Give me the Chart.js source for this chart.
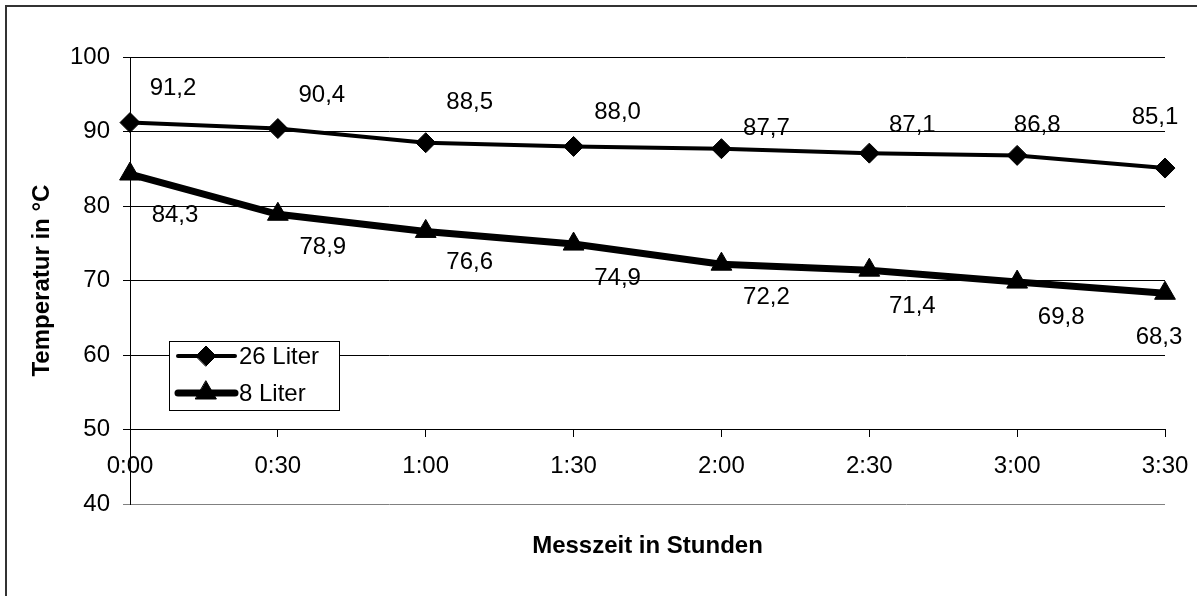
<!DOCTYPE html>
<html>
<head>
<meta charset="utf-8">
<script src="https://cdn.jsdelivr.net/npm/chart.js@4.4.0/dist/chart.umd.min.js"></script>
<style>
  html, body { margin: 0; padding: 0; background: #fff; overflow: hidden; }
  #wrap { position: relative; width: 1197px; height: 596px; }
  #frame { position: absolute; left: 5px; top: 5px; width: 1200px; height: 600px;
           border-left: 2px solid #333; border-top: 2px solid #333; }
  canvas { position: absolute; left: 0; top: 0; }
</style>
</head>
<body>
<div id="wrap">
  <div id="frame"></div>
  <canvas id="chart" width="1197" height="596"></canvas>
</div>
<script>
// Messwerte
const timeLabels = ['0:00', '0:30', '1:00', '1:30', '2:00', '2:30', '3:00', '3:30'];
const liter26 = [91.2, 90.4, 88.5, 88.0, 87.7, 87.1, 86.8, 85.1];
const liter8 = [84.3, 78.9, 76.6, 74.9, 72.2, 71.4, 69.8, 68.3];

// label placement (pixel offsets from each point, as in the original)
const labelOffsets = [
    { dx: [43, 44, 44, 44, 45, 43, 20, -10], dy: [-34, -33, -40, -34, -20, -28, -30, -51] },
    { dx: [45, 45, 44, 44, 45, 43, 44, -6],  dy: [41, 33, 31, 34, 33, 36, 35, 44] }
];

const FONT = "'Liberation Sans', Arial, sans-serif";
Chart.defaults.font.family = FONT;
Chart.defaults.color = '#000';

const fmt = v => v.toFixed(1).replace('.', ',');

// keep the plot edges fixed, no extra room for the outer tick labels
const noSidePadding = scale => {
    scale.paddingLeft = 0;
    scale.paddingRight = 0;
};

// Datenbeschriftungen
const valueLabels = {
    id: 'valueLabels',
    afterDatasetsDraw(chart) {
        const ctx = chart.ctx;
        ctx.save();
        ctx.font = '24px ' + FONT;
        ctx.fillStyle = '#000';
        ctx.textAlign = 'center';
        ctx.textBaseline = 'middle';
        chart.data.datasets.forEach((ds, i) => {
            const meta = chart.getDatasetMeta(i);
            const off = labelOffsets[i];
            meta.data.forEach((pt, j) => {
                ctx.fillText(fmt(ds.data[j]), pt.x + off.dx[j], pt.y + off.dy[j]);
            });
        });
        ctx.restore();
    }
};

// Legende im Diagramm
const legendBox = {
    id: 'legendBox',
    afterDatasetsDraw(chart) {
        const ctx = chart.ctx;
        const a = chart.chartArea;
        const x = a.left + 39, y = a.top + 284, w = 170, h = 69;
        ctx.save();
        ctx.fillStyle = '#fff';
        ctx.fillRect(x, y, w, h);
        ctx.strokeStyle = '#000';
        ctx.lineWidth = 1;
        ctx.strokeRect(x + 0.5, y + 0.5, w, h);
        chart.data.datasets.forEach((ds, i) => {
            const cy = y + 15 + i * 37;
            ctx.strokeStyle = '#000';
            ctx.lineWidth = ds.borderWidth;
            ctx.lineCap = 'round';
            ctx.beginPath();
            ctx.moveTo(x + 9, cy);
            ctx.lineTo(x + 66, cy);
            ctx.stroke();
            ctx.fillStyle = '#000';
            ctx.lineWidth = 1;
            Chart.helpers.drawPoint(ctx, {
                pointStyle: ds.pointStyle,
                radius: ds.pointRadius,
                borderWidth: 1,
                rotation: 0
            }, x + 37, cy);
            ctx.font = '24px ' + FONT;
            ctx.textAlign = 'left';
            ctx.textBaseline = 'middle';
            ctx.fillText(ds.label, x + 70, cy + 1);
        });
        ctx.restore();
    }
};

new Chart(document.getElementById('chart'), {
    type: 'line',
    data: {
        labels: timeLabels,
        datasets: [
            {
                label: '26 Liter',
                data: liter26,
                borderColor: '#000',
                backgroundColor: '#000',
                borderWidth: 4,
                pointStyle: 'rectRot',
                pointRadius: 10,
                pointBorderWidth: 1,
                tension: 0,
                clip: false
            },
            {
                label: '8 Liter',
                data: liter8,
                borderColor: '#000',
                backgroundColor: '#000',
                borderWidth: 7,
                pointStyle: 'triangle',
                pointRadius: 12,
                pointBorderWidth: 1,
                tension: 0,
                clip: false
            }
        ]
    },
    options: {
        responsive: false,
        animation: false,
        layout: { padding: { top: 57, right: 32, left: 0, bottom: 0 } },
        plugins: {
            legend: { display: false },
            tooltip: { enabled: false }
        },
        scales: {
            x: {
                type: 'category',
                position: { y: 50 },
                offset: false,
                grid: { drawOnChartArea: false, drawTicks: true, tickLength: 7, color: '#000' },
                border: { color: '#000', width: 1 },
                ticks: { font: { size: 24 }, color: '#000', padding: 15, maxRotation: 0, autoSkip: false },
                afterFit: noSidePadding
            },
            x2: {
                type: 'category',
                position: 'bottom',
                labels: timeLabels,
                grid: { display: false },
                border: { display: false },
                ticks: { display: false },
                title: {
                    display: true,
                    text: 'Messzeit in Stunden',
                    font: { size: 24, weight: 'bold' },
                    color: '#000',
                    padding: { top: 20, bottom: 35 }
                },
                afterFit: noSidePadding
            },
            y: {
                min: 40,
                max: 100,
                ticks: { stepSize: 10, font: { size: 24 }, color: '#000', padding: 13 },
                grid: {
                    color: ctx => (ctx.tick && ctx.tick.value === 40) ? '#808080' : '#000',
                    tickLength: 7,
                    lineWidth: 1
                },
                border: { color: '#000', width: 1 },
                title: {
                    display: true,
                    text: 'Temperatur in °C',
                    font: { size: 24, weight: 'bold' },
                    color: '#000',
                    padding: { top: 28, bottom: 0 }
                },
                afterFit(scale) { scale.width = 130; }
            }
        }
    },
    plugins: [valueLabels, legendBox]
});
</script>
</body>
</html>
